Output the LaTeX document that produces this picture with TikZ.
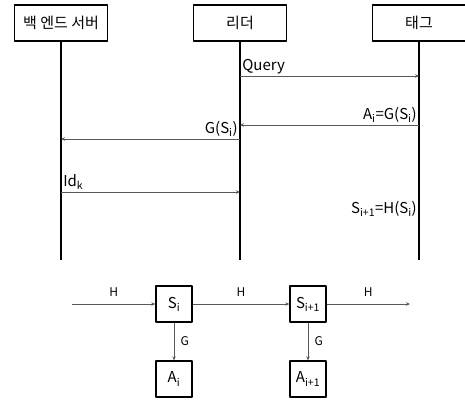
\documentclass[tikz,border=0pt]{standalone}
\usepackage{fontspec}
\setmainfont{Noto Sans CJK KR}
\usetikzlibrary{arrows.meta,calc}
\usetikzlibrary{positioning}
\tikzset{actor/.style={draw,line width=1.3pt,minimum width=93pt,minimum height=36pt,inner sep=0pt}}
\tikzset{blk/.style={draw,line width=1.3pt,minimum size=36pt,inner sep=0pt}}
\tikzset{msg/.style={draw=gray!70!black,line width=0.6pt,-{Stealth[length=4pt,width=3.5pt]}}}
\tikzset{elab/.style={font=\fontsize{12}{14}\selectfont}}

\begin{document}
\begin{tikzpicture}[x=1pt,y=-1pt,>=Stealth,line join=round,font=\fontsize{15}{17}\selectfont]
\useasboundingbox (0,0) rectangle (465,400);
% --- protocol: lifelines and messages
\node[actor] (server) at (61,23) {백 엔드 서버};
\node[actor] (reader) at (240,23) {리더};
\node[actor] (tag) at (419,23) {태그};
\coordinate (srvEnd) at (61,260); \coordinate (rdEnd) at (240,260); \coordinate (tagEnd) at (419,260);
\draw[line width=1.3pt] (server) -- (srvEnd); \draw[line width=1.3pt] (reader) -- (rdEnd); \draw[line width=1.3pt] (tag) -- (tagEnd);
\coordinate (rd1) at (240,76); \coordinate (tg1) at (419,76);
\coordinate (tg2) at (419,125); \coordinate (rd2) at (240,125);
\coordinate (rd3) at (240,139); \coordinate (sv3) at (61,139);
\coordinate (sv4) at (61,192); \coordinate (rd4) at (240,192);
\draw[msg] (rd1) -- (tg1) node[pos=0,above right,inner sep=2pt] {Query};
\draw[msg] (tg2) -- (rd2) node[pos=0,above left,inner sep=2pt] {A\textsubscript{i}=G(S\textsubscript{i})};
\draw[msg] (rd3) -- (sv3) node[pos=0,above left,inner sep=2pt] {G(S\textsubscript{i})};
\draw[msg] (sv4) -- (rd4) node[pos=0,above right,inner sep=2pt] {Id\textsubscript{k}};
\node[anchor=east,inner sep=2pt] (upd) at (419,209) {S\textsubscript{i+1}=H(S\textsubscript{i})};
% --- key chain
\node[blk] (si) at (174,304) {S\textsubscript{i}};
\node[blk] (si1) at (308,304) {S\textsubscript{i+1}};
\node[blk] (ai) at (174,379) {A\textsubscript{i}};
\node[blk] (ai1) at (308,379) {A\textsubscript{i+1}};
\coordinate (hin) at (72,304); \coordinate (hout) at (410,304);
\draw[msg] (hin) -- (si) node[midway,above=4pt,elab] {H};
\draw[msg] (si) -- (si1) node[midway,above=4pt,elab] {H};
\draw[msg] (si1) -- (hout) node[midway,above=4pt,elab] {H};
\draw[msg] (si) -- (ai) node[midway,right=3pt,elab] {G};
\draw[msg] (si1) -- (ai1) node[midway,right=3pt,elab] {G};
\end{tikzpicture}
\end{document}
